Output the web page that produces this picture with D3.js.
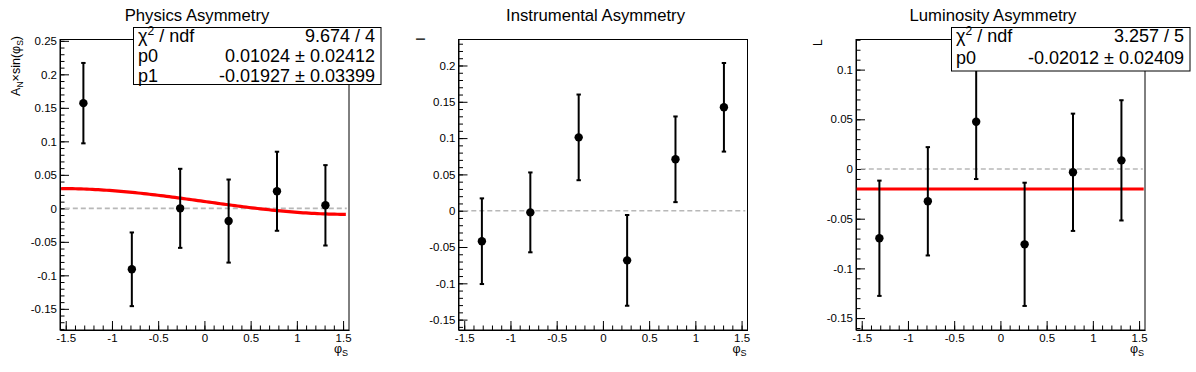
<!DOCTYPE html>
<html>
<head>
<meta charset="utf-8">
<script src="https://cdn.jsdelivr.net/npm/d3@7"></script>
<style>
  body { margin: 0; background: #fff; }
  svg { display: block; font-family: "Liberation Sans", Arial, sans-serif; }
</style>
</head>
<body>
<div id="chart"></div>
<script>
// bin centres in phi_S (6 bins over -pi/2 .. pi/2)
var binCenters = [-1.309, -0.785, -0.262, 0.262, 0.785, 1.309];

// physics asymmetry
var physicsVals = [0.157, -0.091, 0.000, -0.019, 0.0255, 0.0045];
var physicsErrs = [0.060, 0.055, 0.059, 0.062, 0.059, 0.060];
// instrumental asymmetry
var instrVals = [-0.042, -0.0023, 0.101, -0.0684, 0.0708, 0.1424];
var instrErrs = [0.059, 0.055, 0.059, 0.0625, 0.059, 0.061];
// luminosity asymmetry
var lumiVals = [-0.0697, -0.0325, 0.0476, -0.0758, -0.0033, 0.0087];
var lumiErrs = [0.058, 0.0545, 0.0577, 0.062, 0.059, 0.0605];

// fit parameters (from stats boxes)
var physicsFit = [0.01024, -0.01927]; // p0 + p1*sin(phi)
var lumiFit = [-0.02012];             // p0

// stats box texts
var physicsStats = [["χ", " / ndf", "9.674 / 4"], ["p0", "", "0.01024 ± 0.02412"], ["p1", "", "-0.01927 ± 0.03399"]];
var lumiStats = [["χ", " / ndf", "3.257 / 5"], ["p0", "", "-0.02012 ± 0.02409"]];

// ticks
var xMajor = [-1.5, -1, -0.5, 0, 0.5, 1, 1.5];
var xTickLabels = ["-1.5", "-1", "-0.5", "0", "0.5", "1", "1.5"];
var yMajor1 = [-0.15, -0.1, -0.05, 0, 0.05, 0.1, 0.15, 0.2, 0.25];
var yLabels1 = ["-0.15", "-0.1", "-0.05", "0", "0.05", "0.1", "0.15", "0.2", "0.25"];
var yMajor2 = [-0.15, -0.1, -0.05, 0, 0.05, 0.1, 0.15, 0.2];
var yLabels2 = ["-0.15", "-0.1", "-0.05", "0", "0.05", "0.1", "0.15", "0.2"];
var yMajor3 = [-0.15, -0.1, -0.05, 0, 0.05, 0.1];
var yLabels3 = ["-0.15", "-0.1", "-0.05", "0", "0.05", "0.1"];

var width = 1196;
var height = 372;
var FONT = '"Liberation Sans", Arial, sans-serif';

var svg = d3.select("#chart")
    .append("svg")
    .attr("width", width)
    .attr("height", height);

function drawPanel(p) {
    var top = 39.5, bottom = 330;
    var x = d3.scaleLinear().domain([-1.562, 1.564]).range([p.left, p.left + 289]);
    var y = d3.scaleLinear().domain(p.yDomain).range([bottom, top]);
    var g = svg.append("g");

    // frame
    g.append("rect")
        .attr("x", p.left).attr("y", top)
        .attr("width", 289).attr("height", bottom - top)
        .attr("fill", "none").attr("stroke", "#000").attr("stroke-width", 1);

    // minor ticks
    var yMinor = d3.range(Math.ceil(p.yDomain[0] * 100), Math.floor(p.yDomain[1] * 100) + 1).map(function(d) { return d / 100; });
    var xMinor = d3.range(-15, 16).map(function(d) { return d / 10; });
    g.append("g").attr("transform", "translate(" + p.left + ",0)")
        .call(d3.axisLeft(y).tickValues(yMinor).tickFormat("").tickSizeInner(-4.5).tickSizeOuter(0))
        .call(function(a) { a.select(".domain").remove(); });
    g.append("g").attr("transform", "translate(0," + bottom + ")")
        .call(d3.axisBottom(x).tickValues(xMinor).tickFormat("").tickSizeInner(-4.5).tickSizeOuter(0))
        .call(function(a) { a.select(".domain").remove(); });

    // major ticks + labels
    var ya = g.append("g").attr("transform", "translate(" + p.left + ",0)")
        .call(d3.axisLeft(y).tickValues(p.yMajor).tickFormat(function(d, i) { return p.yLabels[i]; })
            .tickSizeInner(-9).tickSizeOuter(0).tickPadding(3));
    var xa = g.append("g").attr("transform", "translate(0," + bottom + ")")
        .call(d3.axisBottom(x).tickValues(xMajor).tickFormat(function(d, i) { return xTickLabels[i]; })
            .tickSizeInner(-9).tickSizeOuter(0).tickPadding(3.5));
    [ya, xa].forEach(function(a) {
        a.attr("font-family", FONT).attr("font-size", 11.5);
        a.selectAll("text").attr("fill", "#000");
        a.selectAll("line, path").attr("stroke", "#000");
    });

    // zero line
    g.append("line")
        .attr("x1", x(-1.51)).attr("x2", x(1.54))
        .attr("y1", y(0)).attr("y2", y(0))
        .attr("stroke", "#b8b8b8").attr("stroke-width", 1.6)
        .attr("stroke-dasharray", "5,3");

    // fit
    if (p.fit) {
        var fx = d3.range(0, 101).map(function(i) { return p.fitRange[0] + (p.fitRange[1] - p.fitRange[0]) * i / 100; });
        g.append("path")
            .datum(fx)
            .attr("d", d3.line()
                .x(function(d) { return x(d); })
                .y(function(d) { return y(p.fit[0] + (p.fit.length > 1 ? p.fit[1] * Math.sin(d) : 0)); }))
            .attr("fill", "none").attr("stroke", "#ff0000").attr("stroke-width", 3.2);
    }

    // error bars
    var pts = binCenters.map(function(c, i) { return { x: c, v: p.vals[i], e: p.errs[i] }; });
    var eb = g.append("g").attr("stroke", "#000").attr("stroke-width", 2);
    eb.selectAll("line.bar").data(pts).enter().append("line")
        .attr("x1", function(d) { return x(d.x); }).attr("x2", function(d) { return x(d.x); })
        .attr("y1", function(d) { return y(d.v - d.e); }).attr("y2", function(d) { return y(d.v + d.e); });
    eb.selectAll("line.capT").data(pts).enter().append("line")
        .attr("x1", function(d) { return x(d.x) - 2.2; }).attr("x2", function(d) { return x(d.x) + 2.2; })
        .attr("y1", function(d) { return y(d.v + d.e); }).attr("y2", function(d) { return y(d.v + d.e); });
    eb.selectAll("line.capB").data(pts).enter().append("line")
        .attr("x1", function(d) { return x(d.x) - 2.2; }).attr("x2", function(d) { return x(d.x) + 2.2; })
        .attr("y1", function(d) { return y(d.v - d.e); }).attr("y2", function(d) { return y(d.v - d.e); });
    g.selectAll("circle").data(pts).enter().append("circle")
        .attr("cx", function(d) { return x(d.x); })
        .attr("cy", function(d) { return y(d.v); })
        .attr("r", 4.2).attr("fill", "#000");

    // title
    g.append("text")
        .attr("x", p.left + 137).attr("y", 21)
        .attr("text-anchor", "middle")
        .attr("font-size", 16.7)
        .text(p.title);

    // x-axis title
    var xt = g.append("text")
        .attr("x", p.left + 288).attr("y", 353)
        .attr("text-anchor", "end")
        .attr("font-size", 12.5);
    xt.append("tspan").text("φ");
    xt.append("tspan").attr("font-size", 9).attr("dy", 3).text("S");

    p.yTitle(g);

    // stats box
    if (p.stats) {
        var b = p.box;
        g.append("rect")
            .attr("x", b[0]).attr("y", b[1]).attr("width", b[2] - b[0]).attr("height", b[3] - b[1])
            .attr("fill", "#fff").attr("stroke", "#000").attr("stroke-width", 1);
        p.stats.forEach(function(row, i) {
            var t = g.append("text").attr("x", b[0] + 4.5).attr("y", p.rowY[i]).attr("font-size", 18);
            t.append("tspan").text(row[0]);
            if (row[1]) {
                t.append("tspan").attr("font-size", 12).attr("dy", -7).text("2");
                t.append("tspan").attr("dy", 7).text(row[1]);
            }
            g.append("text").attr("x", b[2] - 6).attr("y", p.rowY[i])
                .attr("text-anchor", "end").attr("font-size", 18).text(row[2]);
        });
    }
}

// Panel 1: physics asymmetry
drawPanel({
    left: 60, yDomain: [-0.1816, 0.252], yMajor: yMajor1, yLabels: yLabels1,
    vals: physicsVals, errs: physicsErrs, title: "Physics Asymmetry",
    fit: physicsFit, fitRange: [-1.55, 1.53],
    stats: physicsStats, box: [133.5, 27.5, 381, 84.5], rowY: [42, 62, 82],
    yTitle: function(g) {
        var t = g.append("text")
            .attr("transform", "translate(19.5,36) rotate(-90)")
            .attr("text-anchor", "end").attr("font-size", 12.5);
        t.append("tspan").text("A");
        t.append("tspan").attr("font-size", 8.5).attr("dy", 3).text("N");
        t.append("tspan").attr("dy", -3).text("×sin(φ");
        t.append("tspan").attr("font-size", 8.5).attr("dy", 3).text("S");
        t.append("tspan").attr("dy", -3).text(")");
    }
});

// Panel 2: instrumental asymmetry
drawPanel({
    left: 458.5, yDomain: [-0.1643, 0.2358], yMajor: yMajor2, yLabels: yLabels2,
    vals: instrVals, errs: instrErrs, title: "Instrumental Asymmetry",
    yTitle: function(g) {
        g.append("text")
            .attr("transform", "translate(425,39) rotate(-90)")
            .attr("text-anchor", "middle").attr("font-size", 12)
            .text("I");
    }
});

// Panel 3: luminosity asymmetry
drawPanel({
    left: 856, yDomain: [-0.162, 0.1303], yMajor: yMajor3, yLabels: yLabels3,
    vals: lumiVals, errs: lumiErrs, title: "Luminosity Asymmetry",
    fit: lumiFit, fitRange: [-1.555, 1.55],
    stats: lumiStats, box: [951.5, 27.5, 1190, 71], rowY: [42, 64],
    yTitle: function(g) {
        g.append("text")
            .attr("transform", "translate(822,46) rotate(-90)")
            .attr("text-anchor", "start").attr("font-size", 12)
            .text("L");
    }
});
</script>
</body>
</html>
